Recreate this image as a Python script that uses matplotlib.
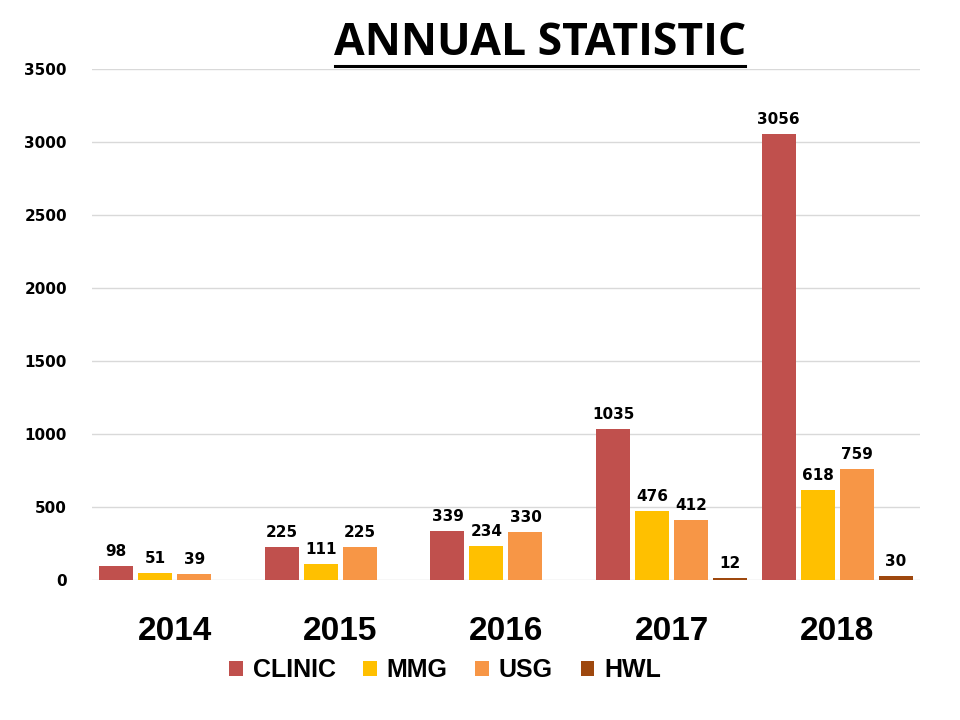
import numpy as np
import matplotlib
matplotlib.use("Agg")
import matplotlib.pyplot as plt
from matplotlib.lines import Line2D

years = ["2014", "2015", "2016", "2017", "2018"]
series = ["CLINIC", "MMG", "USG", "HWL"]
clinic = [98, 225, 339, 1035, 3056]
mmg = [51, 111, 234, 476, 618]
usg = [39, 225, 330, 412, 759]
hwl = [np.nan, np.nan, np.nan, 12, 30]
colors = ["#C0504D", "#FFC000", "#F79646", "#9E480E"]

fig = plt.figure(figsize=(9.6, 7.2), dpi=100)
ax = fig.add_axes([0.0958, 0.1944, 0.8625, 0.7097])

x = np.arange(len(years))
step = 0.2355
width = 0.205
for i, (name, vals, c) in enumerate(zip(series, [clinic, mmg, usg, hwl], colors)):
    pos = x + (i - 1.5) * step
    ax.bar(pos, vals, width=width, color=c, label=name, zorder=3)
    for p, v in zip(pos, vals):
        if np.isnan(v):
            continue
        ax.annotate(f"{v:.0f}", (p, v), xytext=(0, 5), textcoords="offset points",
                    ha="center", va="bottom", fontsize=11, fontweight="bold",
                    family="DejaVu Sans")

ax.set_xlim(-0.5, len(years) - 0.5)
ax.set_ylim(0, 3500)
ax.set_yticks(np.arange(0, 3501, 500))
ax.yaxis.grid(True, color="#D9D9D9", linewidth=1, zorder=0)
ax.set_axisbelow(True)
for s in ax.spines.values():
    s.set_visible(False)
ax.tick_params(axis="both", length=0)
ax.tick_params(axis="y", pad=18)
ax.tick_params(axis="x", pad=26)
ax.set_xticks(x)
ax.set_xticklabels(years, fontsize=24, fontweight="bold", family="Liberation Sans")
for t in ax.get_yticklabels():
    t.set_fontsize(11)
    t.set_fontweight("bold")
    t.set_family("DejaVu Sans")

# title with underline
fig.text(0.5625, 0.940, "ANNUAL STATISTIC", ha="center", va="center",
         fontsize=32, fontweight="bold", family="Open Sans")
fig.add_artist(Line2D([335 / 960, 745 / 960], [1 - 66 / 720, 1 - 66 / 720],
                      color="black", linewidth=2.2, transform=fig.transFigure))

ax.legend(loc="center", bbox_to_anchor=(445 / 960, 1 - 670 / 720),
          bbox_transform=fig.transFigure, ncol=4, frameon=False,
          handlelength=0.55, handleheight=0.55, handletextpad=0.4,
          columnspacing=1.1, prop={"family": "Liberation Sans",
                                   "weight": "bold", "size": 18})

fig.savefig("out.png", dpi=100)
